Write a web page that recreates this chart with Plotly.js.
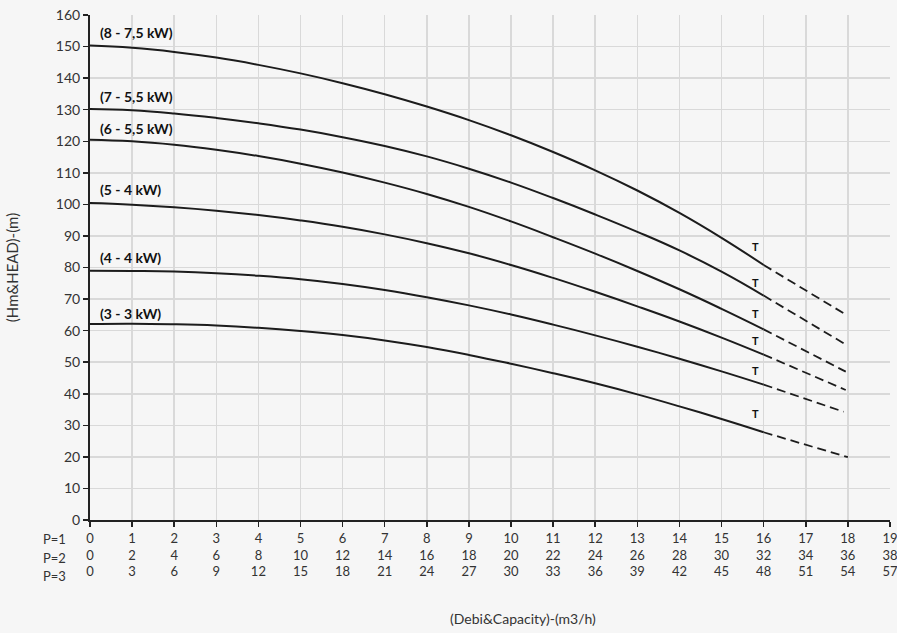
<!DOCTYPE html>
<html>
<head>
<meta charset="utf-8">
<script src="https://cdn.plot.ly/plotly-3.0.1.min.js"></script>
<style>html,body{margin:0;padding:0;background:#f6f6f6;}#chart{width:897px;height:633px;}</style>
</head>
<body>
<div id="chart"></div>
<script>
// Flow (P=1 scale) for solid curves
var flowX = [0,1,2,3,4,5,6,7,8,9,10,11,12,13,14,15,16];
var head8 = [150.3,149.6,148.3,146.5,144.2,141.5,138.4,134.9,131.0,126.7,121.9,116.6,110.8,104.4,97.3,89.4,80.8];
var head7 = [130.2,129.8,128.8,127.4,125.7,123.7,121.3,118.5,115.2,111.3,106.9,102.0,96.8,91.3,85.4,78.7,71.1];
var head6 = [120.5,120.0,118.9,117.3,115.3,112.9,110.1,106.9,103.3,99.2,94.6,89.6,84.4,78.9,73.1,66.9,60.4];
var head5 = [100.4,99.9,99.1,98.0,96.6,94.9,92.9,90.5,87.7,84.5,80.8,76.7,72.3,67.7,62.9,57.8,52.4];
var head4 = [79.0,78.9,78.7,78.2,77.4,76.3,74.8,72.9,70.6,68.0,65.1,61.9,58.5,54.9,51.1,47.1,42.9];
var head3 = [62.1,62.2,62.0,61.6,60.9,59.9,58.6,56.9,54.8,52.3,49.5,46.5,43.3,39.8,36.0,32.0,27.8];
// Dashed extensions
var dashX = [[16,17.9],[16,17.9],[16,17.95],[16,17.95],[16,17.9],[16,18]];
var dashY = [[80.8,65.5],[71.1,56.0],[60.4,47.0],[52.4,41.2],[42.9,34.3],[27.8,19.9]];
// Curve labels
var curveNames = ["(8 - 7,5 kW)","(7 - 5,5 kW)","(6 - 5,5 kW)","(5 - 4 kW)","(4 - 4 kW)","(3 - 3 kW)"];
var labelY = [154.6,134.1,124.1,104.6,83.2,65.3];
var tY = [86.8,75.4,65.3,57.0,47.5,33.9];
var tX = 15.8;
// Tick labels
var tickVals = [0,1,2,3,4,5,6,7,8,9,10,11,12,13,14,15,16,17,18,19];
var p1Labels = ["0","1","2","3","4","5","6","7","8","9","10","11","12","13","14","15","16","17","18","19"];
var p2Labels = ["0","2","4","6","8","10","12","14","16","18","20","22","24","26","28","30","32","34","36","38"];
var p3Labels = ["0","3","6","9","12","15","18","21","24","27","30","33","36","39","42","45","48","51","54","57"];
var rowNames = ["P=1","P=2","P=3"];

var heads = [head8,head7,head6,head5,head4,head3];
var lineColor = '#1c1c1c';
var FONT = 'Lato, "Noto Sans", sans-serif';
var traces = [];
heads.forEach(function(h){
  traces.push({x:flowX, y:h, mode:'lines', line:{color:lineColor, width:2, shape:'spline', smoothing:1.3}, hoverinfo:'skip', showlegend:false});
});
dashX.forEach(function(dx,i){
  traces.push({x:dx, y:dashY[i], mode:'lines', line:{color:lineColor, width:1.8, dash:'9px,5px'}, hoverinfo:'skip', showlegend:false});
});

var tickText = tickVals.map(function(v,i){ return p1Labels[i]+'<br>'+p2Labels[i]+'<br>'+p3Labels[i]; });

function px2paper(px, py){ return [(px-90)/800, 1-(py-15)/505]; }

var annotations = [];
curveNames.forEach(function(n,i){
  annotations.push({x:0.2, y:labelY[i], xref:'x', yref:'y', text:'<b>'+n+'</b>', showarrow:false, xanchor:'left', yanchor:'middle', font:{family:FONT, size:14, color:'#111'}});
});
tY.forEach(function(v){
  annotations.push({x:tX, y:v, xref:'x', yref:'y', text:'<b>T</b>', showarrow:false, xanchor:'center', yanchor:'middle', font:{family:FONT, size:11, color:'#111'}});
});
rowNames.forEach(function(n,i){
  var p = px2paper(41, 539+i*18.5);
  annotations.push({x:p[0], y:p[1], xref:'paper', yref:'paper', text:n, showarrow:false, xanchor:'left', yanchor:'middle', font:{family:FONT, size:13, color:'#333'}});
});
var tp = px2paper(523, 618);
annotations.push({x:tp[0], y:tp[1], xref:'paper', yref:'paper', text:'(Debi&Capacity)-(m3/h)', showarrow:false, xanchor:'center', yanchor:'middle', font:{family:FONT, size:14, color:'#333'}});

var layout = {
  width:897, height:633,
  margin:{l:90, r:7, t:15, b:113},
  paper_bgcolor:'#f6f6f6', plot_bgcolor:'#f6f6f6',
  font:{family:FONT, color:'#333'},
  xaxis:{range:[0,19.001], tickvals:tickVals, ticktext:tickText, showgrid:true, gridcolor:'#d9d9d9', gridwidth:1.5,
    zeroline:false, showline:true, linecolor:'#222', linewidth:2, ticks:'outside', ticklen:5, tickcolor:'#222', tickwidth:1.5,
    ticklabeloverflow:'allow', tickfont:{family:FONT, size:13, color:'#333'}, fixedrange:true},
  yaxis:{range:[0,160], dtick:10, tick0:0, showgrid:true, gridcolor:'#d9d9d9', gridwidth:1.5,
    zeroline:false, showline:true, linecolor:'#222', linewidth:2, ticks:'outside', ticklen:5, tickcolor:'#222', tickwidth:1.5,
    tickfont:{family:FONT, size:14, color:'#333'},
    title:{text:'(Hm&HEAD)-(m)', font:{family:FONT, size:15, color:'#333'}, standoff:34}, fixedrange:true},
  annotations:annotations,
  showlegend:false
};
Plotly.newPlot('chart', traces, layout, {displayModeBar:false, staticPlot:true});
</script>
</body>
</html>
